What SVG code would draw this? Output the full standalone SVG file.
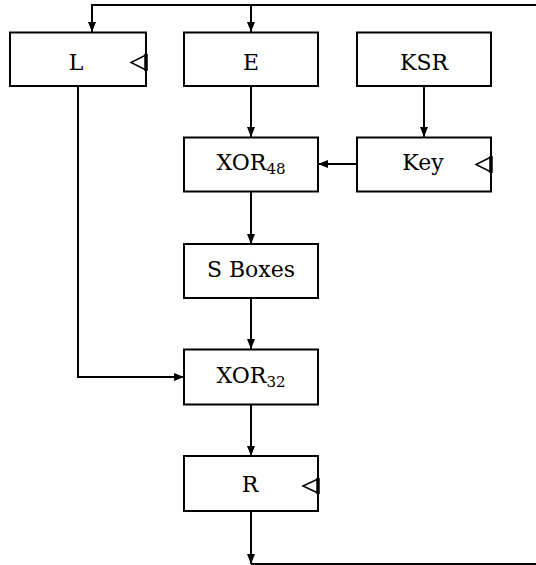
<svg xmlns="http://www.w3.org/2000/svg" width="536" height="565" viewBox="0 0 536 565">
<style>
.box{fill:#fff;stroke:#000;stroke-width:2}
.t{font-family:'DejaVu Serif','Liberation Serif',serif;font-size:22px;fill:#000;text-anchor:middle}
.sub{font-size:15px}
.c{fill:none;stroke:#000;stroke-width:2}
.tri{fill:#fff;stroke:#000;stroke-width:1.5}
.edge{stroke:#000;stroke-width:3.5}
</style>
<defs>
<marker id="ah" viewBox="0 0 10 8" refX="10" refY="4" markerWidth="10" markerHeight="8" markerUnits="userSpaceOnUse" orient="auto">
<path d="M0,0 L10,4 L0,8 Z" fill="#000"/>
</marker>
</defs>
<g id="connectors">
<path class="c" d="M536,5 H92 V32" marker-end="url(#ah)"/>
<path class="c" d="M251,5 V32" marker-end="url(#ah)"/>
<path class="c" d="M251,86 V137" marker-end="url(#ah)"/>
<path class="c" d="M424,86 V137" marker-end="url(#ah)"/>
<path class="c" d="M357,164 H318" marker-end="url(#ah)"/>
<path class="c" d="M251,191 V244" marker-end="url(#ah)"/>
<path class="c" d="M251,298 V349" marker-end="url(#ah)"/>
<path class="c" d="M78,86 V377 H184" marker-end="url(#ah)"/>
<path class="c" d="M251,404 V456" marker-end="url(#ah)"/>
<path class="c" d="M251,511 V564" marker-end="url(#ah)"/>
<path class="c" d="M251,564 H536"/>
</g>
<g id="L">
<rect class="box" x="10" y="32.5" width="136" height="53.5"/>
<text class="t" x="76" y="70">L</text>
<path class="tri" d="M146,55 L131,62.5 L146,70 Z"/>
<line class="edge" x1="146" y1="54" x2="146" y2="71"/>
</g>
<g id="E">
<rect class="box" x="184" y="32.5" width="134" height="53.5"/>
<text class="t" x="251" y="70">E</text>
</g>
<g id="KSR">
<rect class="box" x="357" y="32.5" width="134" height="53.5"/>
<text class="t" x="424" y="70">KSR</text>
</g>
<g id="XOR48">
<rect class="box" x="184" y="137.5" width="134" height="54"/>
<text class="t" x="251" y="169.5">XOR<tspan class="sub" dy="4">48</tspan></text>
</g>
<g id="Key">
<rect class="box" x="357" y="137.5" width="134" height="54"/>
<text class="t" x="423" y="169.5">Key</text>
<path class="tri" d="M491,157 L476,164.5 L491,172 Z"/>
<line class="edge" x1="491" y1="156" x2="491" y2="173"/>
</g>
<g id="SBoxes">
<rect class="box" x="184" y="244" width="134" height="54"/>
<text class="t" x="251" y="277">S Boxes</text>
</g>
<g id="XOR32">
<rect class="box" x="184" y="349.5" width="134" height="55"/>
<text class="t" x="251" y="383">XOR<tspan class="sub" dy="4">32</tspan></text>
</g>
<g id="R">
<rect class="box" x="184" y="456" width="134" height="55"/>
<text class="t" x="250" y="492">R</text>
<path class="tri" d="M318,479 L303,486 L318,493 Z"/>
<line class="edge" x1="318" y1="478" x2="318" y2="494"/>
</g>
</svg>
